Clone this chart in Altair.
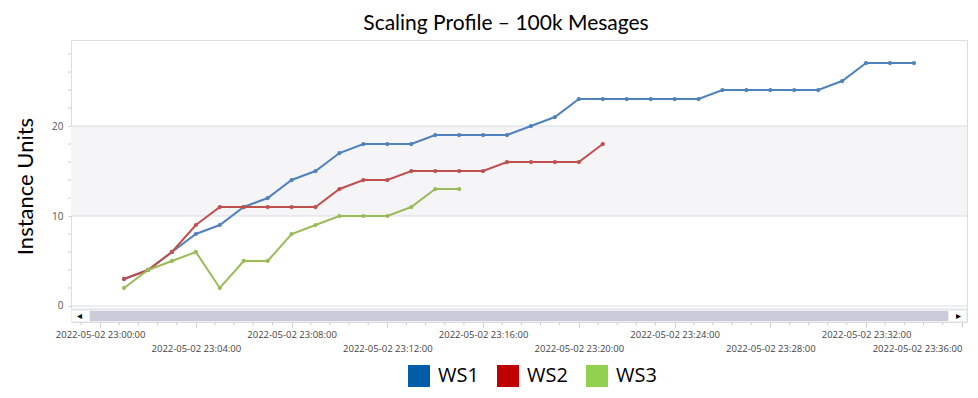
import altair as alt
import pandas as pd

# ---- data ----
series_names = ["WS1", "WS2", "WS3"]
ws1_minutes = [1, 2, 3, 4, 5, 6, 7, 8, 9, 10, 11, 12, 13, 14, 15, 16, 17, 18, 19, 20,
               21, 22, 23, 24, 25, 26, 27, 28, 29, 30, 31, 32, 33, 34]
ws1_values = [3, 4, 6, 8, 9, 11, 12, 14, 15, 17, 18, 18, 18, 19, 19, 19, 19, 20, 21, 23,
              23, 23, 23, 23, 23, 24, 24, 24, 24, 24, 25, 27, 27, 27]
ws2_minutes = [1, 2, 3, 4, 5, 6, 7, 8, 9, 10, 11, 12, 13, 14, 15, 16, 17, 18, 19, 20, 21]
ws2_values = [3, 4, 6, 9, 11, 11, 11, 11, 11, 13, 14, 14, 15, 15, 15, 15, 16, 16, 16, 16, 18]
ws3_minutes = [1, 2, 3, 4, 5, 6, 7, 8, 9, 10, 11, 12, 13, 14, 15]
ws3_values = [2, 4, 5, 6, 2, 5, 5, 8, 9, 10, 10, 10, 11, 13, 13]

line_colors = ["#4F81BD", "#C0504D", "#9BBB59"]
legend_colors = ["#005DA8", "#C00000", "#92D050"]
y_major = [0, 10, 20]
y_minor = [2, 4, 6, 8, 12, 14, 16, 18, 22, 24, 26, 28]
band_low, band_high = [10], [20]

rows = []
for name, mins, vals in [("WS1", ws1_minutes, ws1_values),
                         ("WS2", ws2_minutes, ws2_values),
                         ("WS3", ws3_minutes, ws3_values)]:
    for m, v in zip(mins, vals):
        rows.append({"series": name, "time": "2022-05-02T23:%02d:00" % m, "value": v})
df = pd.DataFrame(rows)

W, H = 896, 282
FONT = "Open Sans"

def dt(total_sec):
    h = total_sec // 3600
    m = (total_sec % 3600) // 60
    s = total_sec % 60
    return alt.DateTime(year=2022, month=5, date=2, hours=int(h), minutes=int(m), seconds=int(s))

def iso(total_sec):
    h = total_sec // 3600
    m = (total_sec % 3600) // 60
    s = total_sec % 60
    return "2022-05-02T%02d:%02d:%02d" % (h, m, s)

base_sec = 23 * 3600
major_ticks = [dt(base_sec + k * 240) for k in range(0, 10)]
minor_ticks = [iso(base_sec + k * 48) for k in range(-1, 46) if k % 5 != 0]
x_domain = [dt(base_sec - 73), dt(base_sec + 36 * 60 + 13)]

x_scale = alt.Scale(domain=x_domain)
y_scale = alt.Scale(domain=[-1.78, 29.56], nice=False, zero=False)

row2_test = "minutes(datum.value) % 8 == 4"

x_axis = alt.Axis(
    values=major_ticks,
    format="%Y-%m-%d %H:%M:%S",
    labelOverlap=False, labelFlush=False,
    labelAlign={"condition": {"test": "minutes(datum.value) == 36", "value": "right"}, "value": "center"},
    labelFont=FONT, labelFontSize=9.5, labelColor="#444444",
    labelPadding={"condition": {"test": row2_test, "value": 16}, "value": 2},
    tickSize=5, tickColor="#c8cad6",
    domain=False, grid=False, title=None,
)
y_axis = alt.Axis(
    values=y_major,
    labelOverlap=False,
    labelFont=FONT, labelFontSize=10, labelColor="#555555", labelPadding=5,
    tickSize=3, tickColor="#c8cad6", domain=False, grid=False,
    title="Instance Units", titleFont="Lato", titleFontSize=22, titleFontWeight="normal",
    titleColor="black", titleAngle=270, titleX=-39, titleY=146, titleAlign="center",
    titleBaseline="alphabetic",
)

band_df = pd.DataFrame({"lo": band_low, "hi": band_high})
band = alt.Chart(band_df).mark_rect(color="#f5f5f8").encode(
    y=alt.Y("lo:Q", scale=y_scale, axis=y_axis),
    y2="hi:Q",
    x=alt.value(0), x2=alt.value(W),
)

grid = alt.Chart(pd.DataFrame({"g": y_major})).mark_rule(color="#dcdde6", strokeWidth=1.2).encode(
    y=alt.Y("g:Q", scale=y_scale),
    x=alt.value(0), x2=alt.value(W),
)

y_minor_ticks = alt.Chart(pd.DataFrame({"g": y_minor})).mark_rule(color="#c8cad6", strokeWidth=1).encode(
    y=alt.Y("g:Q", scale=y_scale),
    x=alt.value(-3), x2=alt.value(0),
)

minor = alt.Chart(pd.DataFrame({"t": minor_ticks})).mark_rule(color="#c8cad6", strokeWidth=1).encode(
    x=alt.X("t:T", scale=x_scale),
    y=alt.value(H), y2=alt.value(H + 3),
)

sb = pd.DataFrame({"k": [0]})
scroll_bg = alt.Chart(sb).mark_rect(color="#eeeff4").encode(
    x=alt.value(0), x2=alt.value(W), y=alt.value(269), y2=alt.value(H))
scroll_line = alt.Chart(sb).mark_rule(color="#dcdde6", strokeWidth=1.2).encode(
    x=alt.value(0), x2=alt.value(W), y=alt.value(269))
scroll_left = alt.Chart(sb).mark_rect(color="white").encode(
    x=alt.value(1), x2=alt.value(18), y=alt.value(271), y2=alt.value(281))
scroll_right = alt.Chart(sb).mark_rect(color="white").encode(
    x=alt.value(878), x2=alt.value(W - 1), y=alt.value(271), y2=alt.value(281))
scroll_bar = alt.Chart(sb).mark_rect(color="#c9cbd9").encode(
    x=alt.value(19), x2=alt.value(877), y=alt.value(271), y2=alt.value(281))
arrow_l = alt.Chart(sb).mark_text(text="◂", fontSize=10, color="black").encode(
    x=alt.value(8), y=alt.value(276))
arrow_r = alt.Chart(sb).mark_text(text="▸", fontSize=10, color="black").encode(
    x=alt.value(887), y=alt.value(276))

# colour scale takes its domain from the data so it is not merged with the legend scale
color_scale = alt.Scale(range=line_colors)
lines = alt.Chart(df).mark_line(strokeWidth=2).encode(
    x=alt.X("time:T", scale=x_scale, axis=x_axis),
    y=alt.Y("value:Q", scale=y_scale),
    color=alt.Color("series:N", scale=color_scale, legend=None),
    detail="series:N",
)
points = alt.Chart(df).mark_circle(size=18, opacity=1).encode(
    x=alt.X("time:T", scale=x_scale),
    y=alt.Y("value:Q", scale=y_scale),
    color=alt.Color("series:N", scale=color_scale, legend=None),
)
legend_df = pd.DataFrame({"name": series_names})
legend_layer = alt.Chart(legend_df).mark_square(size=0, filled=True).encode(
    fill=alt.Fill("name:N", scale=alt.Scale(domain=series_names, range=legend_colors),
                  legend=alt.Legend(
                      title=None, orient="none", legendX=337, legendY=325,
                      direction="horizontal", columns=3, padding=0,
                      symbolType="square", symbolSize=484, symbolStrokeWidth=0,
                      symbolOpacity=1, labelFont=FONT, labelFontSize=20,
                      labelColor="black", labelOffset=8, columnPadding=18,
                  )),
)

chart = alt.layer(
    band, grid, y_minor_ticks, scroll_bg, scroll_line, scroll_bar, scroll_left, scroll_right,
    arrow_l, arrow_r, minor, lines, points, legend_layer,
).properties(
    width=W, height=H,
    title=alt.TitleParams("Scaling Profile – 100k Mesages", font="Lato", fontSize=21,
                          fontWeight="normal", color="black", anchor="middle",
                          frame="group", dx=-13, dy=23, offset=12, baseline="alphabetic"),
    autosize=alt.AutoSizeParams(type="none"),
    padding={"left": 63, "top": 32, "right": 3, "bottom": 68},
).configure_view(
    stroke="#dadbe5", strokeWidth=1.5,
).configure(background="white")

chart.save("out.html", embed_options={"renderer": "svg", "actions": False})
